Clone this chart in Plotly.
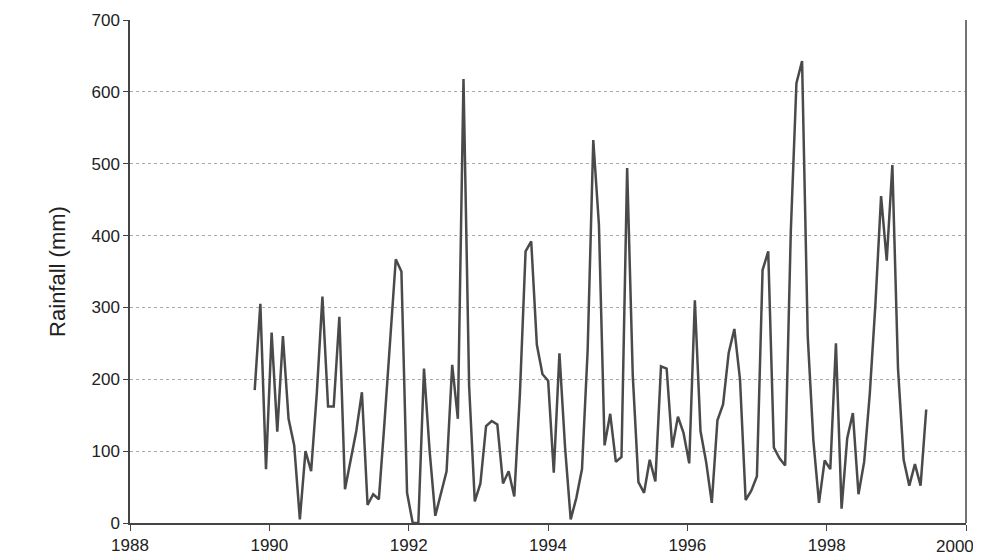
import plotly.graph_objects as go

start_year = 1989.79
step = 0.081  # roughly monthly spacing as drawn

rainfall = [
    185, 305, 75,
    265, 127, 260, 145, 108, 5, 100, 72, 180, 315, 162, 162,
    287, 47, 90, 128, 182, 25, 40, 33, 140, 255, 367, 350,
    42, 0, 0, 215, 100, 10, 40, 72, 220, 145, 618, 190,
    30, 55, 135, 142, 137, 55, 72, 37, 180, 378, 392, 248,
    207, 198, 70, 236, 105, 5, 35, 75, 240, 533, 415, 108,
    152, 85, 92, 494, 205, 57, 42, 88, 58, 218, 215, 105,
    148, 125, 83, 310, 128, 85, 28, 143, 165, 237, 270, 200,
    32, 45, 65, 352, 378, 105, 90, 80, 405, 612, 643, 260,
    115, 28, 87, 75, 250, 20, 118, 153, 40, 85, 180, 305,
    455, 365, 498, 215, 88, 52, 82, 52, 158,
]
years = [start_year + i * step for i in range(len(rainfall))]

x_ticks = [1988, 1990, 1992, 1994, 1996, 1998, 2000]
x_labels = ["1988", "1990", "1992", "1994", "1996", "1998", ""]
y_ticks = [0, 100, 200, 300, 400, 500, 600, 700]

fig = go.Figure(go.Scatter(x=years, y=rainfall, mode="lines",
                           line=dict(color="#4a4a4a", width=2.5)))

fig.update_layout(
    width=981, height=556, plot_bgcolor="white", paper_bgcolor="white",
    margin=dict(l=122, r=23, t=12, b=41), showlegend=False,
    font=dict(family="Liberation Sans, Arial", size=17, color="#222"),
)
fig.update_xaxes(range=[1988, 2000], tickvals=x_ticks, ticktext=x_labels,
                 ticks="outside", ticklen=6,
                 showgrid=False, showline=True, linecolor="#444", linewidth=2,
                 zeroline=False, automargin=False)
fig.update_yaxes(range=[0, 700], tickvals=y_ticks, ticks="outside", ticklen=5,
                 showgrid=True, gridcolor="#aaa", griddash="dot", gridwidth=1,
                 showline=True, linecolor="#444", linewidth=1.5, zeroline=False,
                 automargin=False,
                 title=dict(text="Rainfall (mm)", font=dict(size=22), standoff=20))
fig.add_shape(type="line", xref="paper", yref="paper", x0=1, x1=1, y0=0, y1=1,
              line=dict(color="#444", width=1.5))
fig.add_annotation(x=2000, y=0, xref="x", yref="paper", text="2000",
                   showarrow=False, yanchor="top", xanchor="right",
                   yshift=-12, xshift=10,
                   font=dict(size=17, color="#222"))

fig.write_html("out.html")
